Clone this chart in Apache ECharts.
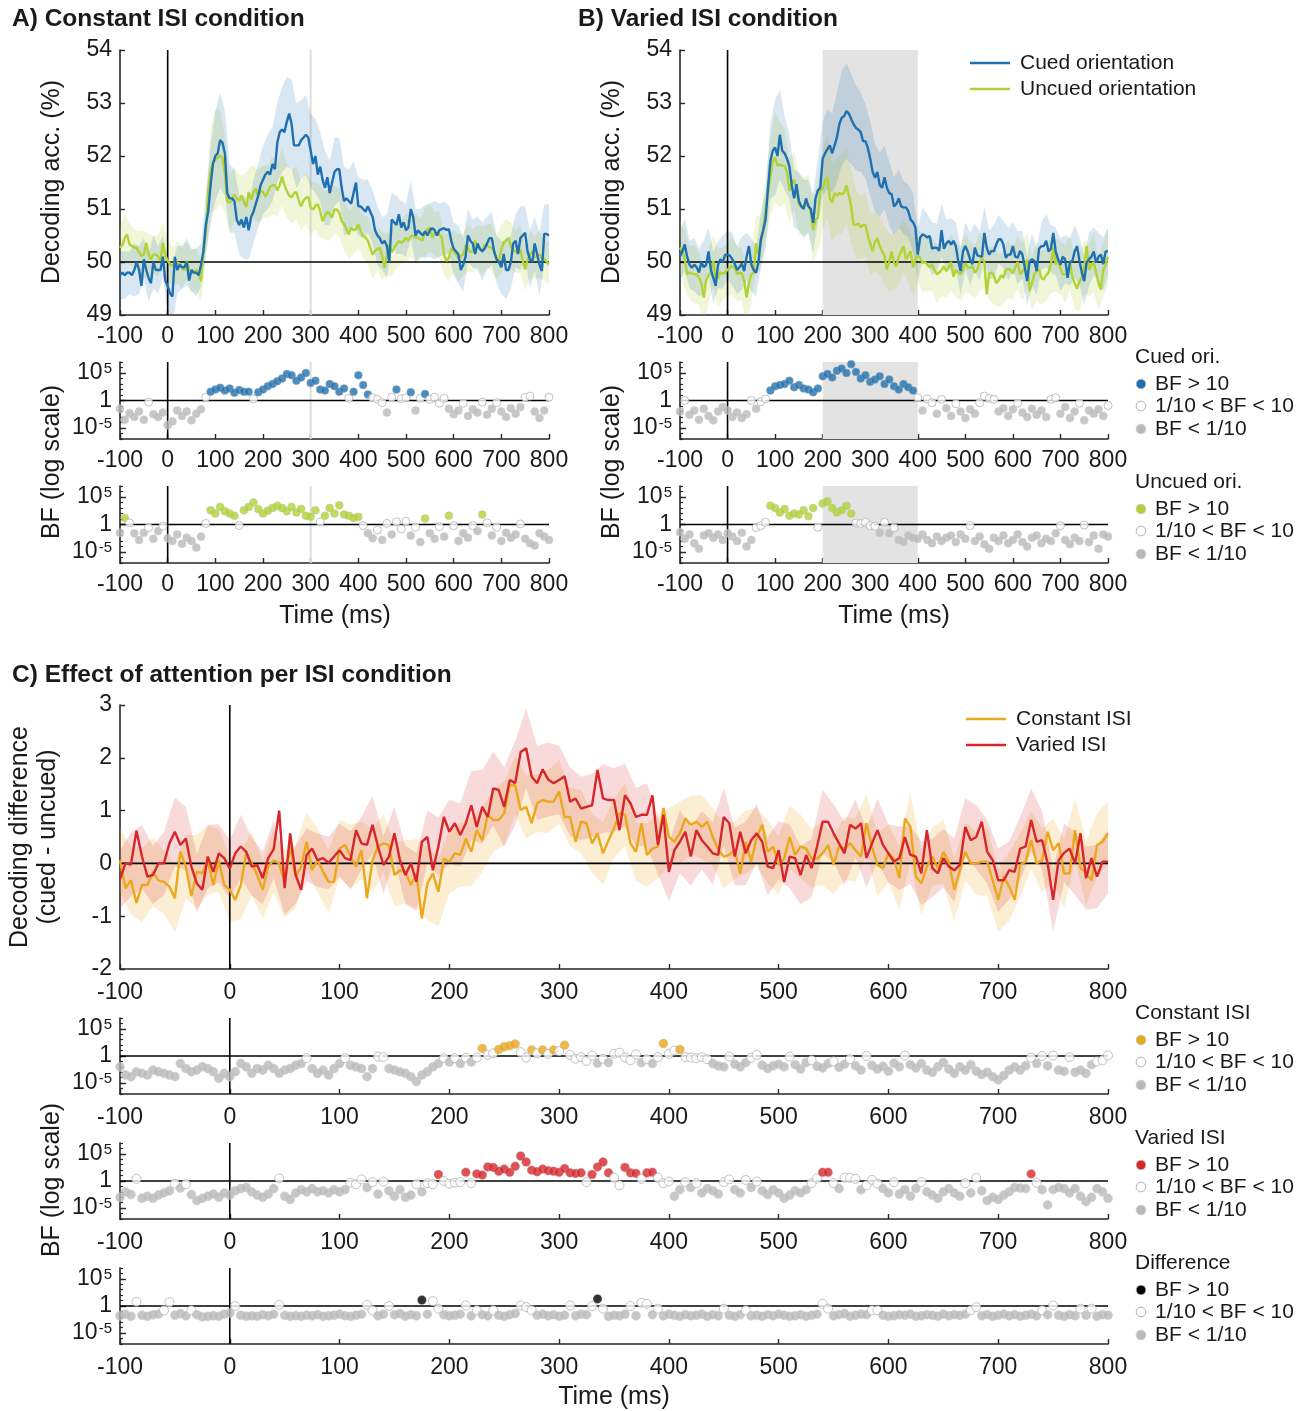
<!DOCTYPE html>
<html><head><meta charset="utf-8">
<script src="https://cdn.jsdelivr.net/npm/echarts@6/dist/echarts.min.js"></script>
<style>html,body{margin:0;padding:0;background:#fff}#c{width:1309px;height:1411px}</style>
</head><body><div id="c"></div>
<script>
// ---------- time bases (ms) ----------
const T5 = Array.from({length:181}, (_, i) => -100 + 5 * i);
const T10 = Array.from({length:91}, (_, i) => -100 + 10 * i);
const xTicks = [-100, 0, 100, 200, 300, 400, 500, 600, 700, 800];
const bfTickLabels = [-5, 0, 5];

// ---------- A) Constant ISI: decoding accuracy (%) every 5 ms ----------
const aCued = [
49.75,49.8,49.75,49.8,49.8,49.75,49.85,50.0,49.85,49.55,
50.05,49.85,49.7,49.6,50.0,49.85,49.85,49.85,50.1,49.65,
49.55,49.4,49.35,50.1,49.85,49.95,49.9,49.9,50.0,49.65,
49.85,49.8,49.8,49.75,49.95,50.2,50.7,50.95,51.45,51.85,
52.0,52.05,52.3,52.25,52.05,51.3,51.2,51.2,51.15,50.8,
50.7,50.8,50.65,50.85,50.6,50.85,50.95,51.1,51.25,51.45,
51.55,51.65,51.7,51.65,51.85,51.75,52.25,52.45,52.5,52.45,
52.65,52.8,52.6,52.2,52.2,52.2,52.3,52.35,52.4,52.35,
52.1,51.85,52.0,51.65,51.8,51.55,51.4,51.6,51.3,51.5,
51.7,51.75,51.75,51.4,51.15,51.2,51.15,51.1,51.3,51.5,
51.05,51.05,51.0,50.95,51.05,50.95,50.85,50.6,50.5,50.45,
50.35,50.4,50.3,50.0,50.8,50.75,50.7,50.9,50.65,50.75,
50.6,50.65,51.0,50.85,50.5,50.6,50.55,50.5,50.58,50.5,
50.6,50.64,50.6,50.5,50.6,50.62,50.64,50.6,50.62,50.4,
50.25,50.2,50.14,49.85,49.95,50.1,50.5,50.4,50.35,50.15,
50.35,50.25,50.2,50.25,50.35,50.45,50.45,50.2,50.05,50.0,
49.9,50.15,49.85,49.85,50.0,50.35,50.4,50.15,50.45,50.5,
50.55,50.2,50.05,50.0,50.35,50.15,49.95,49.83,50.53,50.53,
50.5];
const aUncued = [
50.27,50.32,50.46,50.52,50.33,50.3,50.27,50.27,50.18,50.11,
50.14,50.36,50.14,50.05,50.14,50.14,50.11,50.02,50.36,50.14,
50.02,49.97,49.92,50.0,49.99,49.97,49.89,49.84,50.02,49.86,
49.83,49.78,49.86,49.77,49.64,50.21,50.52,51.34,51.72,51.87,
51.92,51.97,52.0,51.96,51.65,51.15,51.12,51.17,51.27,51.2,
51.15,51.26,51.13,51.04,51.32,51.17,51.32,51.39,51.23,51.35,
51.32,51.23,51.32,51.42,51.45,51.45,51.35,51.45,51.61,51.45,
51.34,51.25,51.22,51.3,51.32,51.16,51.05,51.16,51.21,51.23,
51.03,50.99,51.06,51.09,50.96,50.77,50.87,50.95,50.9,50.84,
50.99,50.99,50.93,50.77,50.72,50.62,50.52,50.65,50.6,50.62,
50.71,50.58,50.49,50.46,50.4,50.27,50.14,50.21,50.24,50.27,
50.11,49.89,50.14,50.33,50.18,50.27,50.33,50.4,50.36,50.4,
50.46,50.4,50.49,50.49,50.46,50.46,50.43,50.4,50.57,50.62,
50.65,50.46,50.53,50.55,50.52,50.46,50.14,50.02,50.08,50.26,
50.21,50.14,50.08,50.11,50.14,50.32,50.27,50.18,50.21,50.4,
50.3,50.24,50.21,50.32,50.31,50.28,50.27,50.18,50.08,50.02,
50.24,50.36,50.41,50.45,50.3,50.22,50.2,50.16,50.24,50.02,
49.86,50.05,50.14,50.2,50.09,50.11,50.14,50.08,50.05,50.01,
49.96];
// confidence half-widths every 10 ms
const aCuedHW = [
0.45,0.45,0.4,0.5,0.45,0.4,0.45,0.5,0.45,0.4,
0.5,0.55,0.45,0.4,0.45,0.4,0.45,0.4,0.55,0.75,
0.85,0.9,0.8,0.65,0.6,0.55,0.6,0.55,0.6,0.6,
0.65,0.7,0.7,0.75,0.8,0.85,0.85,0.8,0.75,0.75,
0.7,0.7,0.65,0.7,0.6,0.65,0.6,0.65,0.6,0.6,
0.55,0.55,0.5,0.5,0.55,0.5,0.6,0.5,0.55,0.5,
0.5,0.55,0.5,0.45,0.5,0.5,0.55,0.5,0.5,0.45,
0.5,0.55,0.5,0.5,0.45,0.5,0.55,0.5,0.5,0.45,
0.5,0.55,0.5,0.5,0.6,0.5,0.55,0.5,0.6,0.55,
0.6];
const aUncuedHW = [
0.4,0.45,0.4,0.35,0.4,0.45,0.4,0.35,0.4,0.4,
0.4,0.35,0.4,0.4,0.35,0.4,0.4,0.4,0.5,0.8,
0.95,0.9,0.7,0.55,0.5,0.5,0.5,0.45,0.5,0.5,
0.5,0.5,0.55,0.5,0.55,0.5,0.5,0.5,0.45,0.5,
0.5,0.45,0.5,0.45,0.5,0.45,0.45,0.5,0.45,0.45,
0.45,0.4,0.45,0.45,0.4,0.45,0.4,0.45,0.45,0.4,
0.45,0.4,0.45,0.4,0.45,0.45,0.4,0.45,0.4,0.45,
0.4,0.45,0.4,0.45,0.4,0.4,0.45,0.4,0.45,0.4,
0.45,0.4,0.45,0.4,0.45,0.4,0.45,0.4,0.45,0.4,
0.4];
// Bayes factors (log10 BF) every 10 ms
const bfACued = [
-1.5,-3.5,-2.3,-3.0,-2.0,-3.5,-0.3,-2.5,-3.0,-2.2,
-4.5,-3.8,-1.8,-2.8,-2.0,-3.6,-2.4,-1.6,0.6,1.6,
2.0,2.3,1.8,2.2,1.4,1.9,1.6,1.6,0.3,1.5,
2.0,2.6,3.0,3.5,4.0,4.8,4.6,3.6,4.2,5.0,
3.2,3.6,2.0,1.8,3.0,2.6,1.6,2.2,0.4,1.6,
4.6,2.8,1.1,0.5,0.2,-0.4,-2.2,0.6,2.0,0.3,
0.5,1.5,-1.8,0.4,1.2,0.2,0.6,-0.5,0.4,-1.5,
-2.5,-1.8,-0.5,-2.8,-1.6,-2.2,-0.3,-2.6,-1.5,-0.4,
-2.0,-3.0,-1.4,-2.4,-1.2,0.6,0.8,-2.0,-3.2,-1.8,
0.6];
const bfAUncued = [
-1.5,1.2,0.3,-1.6,-2.8,-1.5,-0.6,-2.6,-1.2,-0.3,
-2.5,-3.0,-1.8,-3.5,-2.4,-3.0,-4.2,-2.2,0.2,2.6,
2.0,3.2,2.4,2.0,1.6,-0.2,2.6,3.2,4.0,2.8,
2.0,2.5,3.0,3.4,3.0,2.4,3.2,2.2,2.8,1.6,
1.4,2.6,0.5,1.6,3.0,2.0,3.5,1.8,1.6,1.2,
1.4,-0.2,-1.6,-2.5,-1.0,-2.8,0.2,-1.8,0.5,-0.8,
0.6,-2.0,-0.5,-3.2,1.1,-1.6,-2.6,-0.4,-2.2,1.6,
-0.2,-3.0,-1.6,-2.4,-0.2,-1.2,1.8,0.3,-2.0,-0.5,
-3.0,-1.5,-2.4,-1.8,0.1,-2.6,-3.4,-3.8,-1.6,-2.2,
-2.8];

// ---------- B) Varied ISI ----------
const bCued = [
50.11,50.2,50.33,50.1,49.95,49.89,49.95,49.9,49.8,50.0,
49.9,49.95,50.2,49.85,49.7,49.55,49.95,50.05,50.0,50.14,
50.14,50.12,50.05,49.97,49.85,49.9,49.97,49.83,50.1,50.3,
49.95,49.85,49.8,49.99,50.43,50.6,50.8,51.4,51.9,52.1,
52.16,52.0,52.4,52.1,52.05,51.95,51.8,51.45,51.2,51.47,
51.15,51.05,51.0,51.2,51.05,51.0,50.74,51.2,51.35,51.4,
51.95,52.05,52.13,52.2,52.05,52.2,52.35,52.6,52.72,52.75,
52.85,52.8,52.7,52.6,52.53,52.5,52.45,52.28,52.28,52.15,
51.95,51.7,51.59,51.7,51.45,51.4,51.6,51.4,51.3,51.28,
51.05,51.1,51.2,51.05,51.03,51.03,50.96,50.8,50.75,50.65,
50.14,50.46,50.52,50.5,50.46,50.49,50.25,50.27,50.27,50.21,
50.6,50.25,50.35,50.4,50.33,50.4,50.3,50.02,49.83,50.2,
50.3,50.2,50.05,49.96,50.27,50.13,50.11,50.1,50.55,50.27,
50.14,50.21,50.2,50.33,50.43,50.43,50.33,50.08,50.14,50.14,
50.3,50.1,50.08,50.21,50.14,49.9,49.64,50.0,50.05,50.02,
49.83,50.25,50.3,50.3,50.4,50.2,50.25,50.55,50.2,50.05,
49.95,50.1,50.05,49.7,50.0,50.02,50.2,50.3,50.02,49.8,
49.64,49.99,50.05,50.1,50.2,49.99,50.1,50.14,49.96,50.2,
50.2];
const bUncued = [
50.27,50.2,50.05,49.77,49.8,49.78,49.77,49.77,49.7,49.6,
49.33,49.65,49.75,49.8,50.02,49.7,49.7,49.8,49.78,49.8,
49.86,49.89,49.93,49.9,49.77,49.8,49.78,49.64,49.33,49.6,
49.77,49.8,50.35,50.14,50.35,50.6,51.0,51.3,51.6,51.9,
51.97,51.82,51.84,51.82,51.81,51.7,51.34,51.47,51.55,51.35,
51.09,51.04,51.06,51.08,51.09,50.95,50.6,50.8,50.84,51.34,
51.38,51.53,51.6,51.2,51.12,51.3,51.25,51.3,51.28,51.3,
51.45,51.25,51.05,50.7,50.7,50.72,50.66,50.7,50.7,50.5,
50.35,50.2,50.38,50.45,50.3,50.2,50.12,49.86,50.0,50.2,
49.98,49.92,50.1,50.2,50.3,50.05,50.12,50.2,49.9,50.05,
50.12,50.08,49.98,50.0,49.95,49.9,49.96,49.85,49.77,49.8,
49.85,49.92,49.83,49.9,50.0,49.72,49.85,49.8,49.77,49.85,
49.98,49.9,49.89,49.92,49.8,49.85,50.0,50.08,50.0,49.39,
49.78,49.8,49.75,49.6,49.65,49.75,49.7,49.85,49.87,49.85,
49.78,49.9,50.0,49.77,49.82,49.9,50.05,49.45,49.6,49.77,
49.83,49.86,49.7,49.67,49.75,49.8,49.96,50.27,49.95,50.05,
49.88,49.77,49.77,49.78,50.0,49.72,49.6,49.5,49.63,49.7,
49.9,50.3,49.85,49.95,50.0,49.8,49.6,49.48,49.85,49.95,
50.1];
const bCuedHW = [
0.45,0.5,0.45,0.5,0.45,0.5,0.45,0.5,0.45,0.5,
0.45,0.5,0.45,0.5,0.45,0.5,0.45,0.5,0.55,0.7,
0.9,0.85,0.7,0.6,0.55,0.55,0.55,0.5,0.55,0.6,
0.7,0.75,0.75,0.85,0.9,0.9,0.85,0.8,0.75,0.7,
0.7,0.65,0.6,0.6,0.6,0.55,0.55,0.5,0.5,0.55,
0.5,0.5,0.45,0.5,0.45,0.5,0.45,0.5,0.45,0.45,
0.45,0.5,0.45,0.45,0.5,0.45,0.5,0.45,0.45,0.5,
0.45,0.5,0.45,0.45,0.5,0.45,0.45,0.5,0.45,0.45,
0.5,0.45,0.45,0.5,0.45,0.45,0.5,0.45,0.45,0.5,
0.45];
const bUncuedHW = [
0.5,0.55,0.5,0.55,0.5,0.55,0.5,0.5,0.55,0.5,
0.5,0.55,0.5,0.5,0.55,0.5,0.5,0.55,0.6,0.75,
0.85,0.8,0.7,0.6,0.55,0.55,0.55,0.55,0.6,0.65,
0.75,0.8,0.75,0.7,0.75,0.7,0.7,0.65,0.6,0.6,
0.6,0.55,0.55,0.55,0.55,0.5,0.55,0.5,0.5,0.55,
0.5,0.55,0.5,0.5,0.55,0.5,0.5,0.55,0.5,0.5,
0.55,0.5,0.5,0.55,0.5,0.5,0.55,0.5,0.5,0.55,
0.5,0.5,0.55,0.5,0.5,0.55,0.5,0.5,0.55,0.5,
0.5,0.55,0.5,0.5,0.55,0.5,0.5,0.55,0.5,0.5,
0.55];
const bfBCued = [
-2.0,0.0,-2.6,-1.8,-3.5,-1.5,-2.8,-3.6,-2.0,-1.2,
-1.8,-3.0,-2.2,-3.2,-2.5,0.0,-1.5,-0.2,0.3,1.8,
2.6,2.8,3.0,3.6,2.4,2.8,2.2,2.0,1.5,2.2,
4.4,4.8,4.2,5.4,5.8,5.0,6.6,5.2,4.0,4.6,
3.4,3.8,4.4,3.0,3.8,2.6,2.0,3.0,2.4,1.8,
0.5,-1.8,0.3,-0.4,-2.4,0.2,-1.4,-2.8,-0.6,-2.0,
-3.2,-1.6,-2.4,-0.4,0.8,0.4,0.2,-2.0,-1.4,-2.8,
-1.6,-0.5,-2.2,-3.0,-1.5,-2.6,-1.8,-3.0,0.2,0.5,
-2.4,-1.2,-3.2,-2.0,-0.5,-3.6,-1.8,-2.4,-1.6,-2.8,
-0.9];
const bfBUncued = [
-1.4,-2.6,-1.8,-3.4,-4.4,-2.0,-1.6,-2.4,-1.8,-2.8,
-1.6,-2.2,-3.0,-1.5,-4.0,-2.8,-0.6,-0.2,0.4,3.4,
3.0,2.2,2.8,1.6,2.0,1.8,2.6,1.5,3.0,-0.5,
3.8,4.2,3.0,2.2,2.6,3.4,2.0,0.3,0.2,0.4,
-0.2,-0.3,-1.5,0.4,-1.6,-0.6,-2.8,-3.2,-2.0,-2.4,
-2.6,-1.8,-2.8,-3.4,-2.2,-3.0,-2.4,-2.0,-3.2,-1.8,
-2.6,-0.2,-3.0,-2.2,-3.6,-4.4,-2.4,-3.0,-2.0,-3.4,
-2.8,-1.8,-3.2,-4.0,-2.4,-2.0,-3.4,-2.6,-3.0,-1.6,
-0.2,-2.8,-3.6,-2.4,-3.0,-0.1,-3.2,-2.0,-4.4,-1.8,
-2.2];

// ---------- C) Decoding difference (cued - uncued), every 5 ms ----------
const cConst = [
0.06,-0.47,-0.32,-0.75,-0.41,-0.41,-0.16,-0.32,-0.35,-0.44,
-0.66,0.22,-0.06,-0.62,-0.16,-0.19,0.06,-0.41,0.06,-0.41,
-0.5,-0.69,-0.41,0.19,0.0,-0.22,-0.5,-0.06,0.06,0.0,
-0.38,0.32,-0.25,-0.06,0.41,-0.13,0.06,-0.16,-0.35,-0.35,
0.28,0.35,0.13,-0.06,0.25,-0.66,0.06,0.32,0.38,0.35,
-0.22,-0.13,-0.16,-0.41,-0.19,-1.04,-0.38,-0.19,-0.54,0.09,
0.03,0.19,0.16,0.47,0.22,0.63,0.44,0.92,0.82,0.82,
0.95,1.48,1.48,1.01,1.07,0.76,1.14,1.2,1.17,1.17,
1.36,0.88,0.88,0.41,0.79,0.76,0.38,0.57,0.19,0.44,
0.66,0.95,0.92,0.38,0.22,0.76,0.16,0.28,0.32,1.05,
0.5,0.41,0.57,0.85,0.73,0.79,0.69,0.79,0.5,0.25,
0.13,0.16,0.25,-0.19,0.41,0.03,0.5,0.73,0.22,0.32,
-0.03,0.09,0.5,0.16,0.32,0.28,0.09,0.09,0.19,0.35,
-0.03,0.32,0.28,0.38,0.25,0.13,0.76,0.32,-0.03,-0.09,
0.19,0.09,-0.28,0.85,0.69,-0.25,-0.38,-0.06,0.13,-0.09,
0.22,0.03,-0.5,-0.13,0.22,0.0,0.0,0.03,0.03,-0.32,
-0.69,-0.25,-0.44,-0.69,-0.03,0.03,0.44,0.0,0.06,0.6,
0.25,0.38,-0.19,-0.19,0.63,-0.09,-0.18,-0.32,0.35,0.41,
0.57];
const cVaried = [
-0.3,0.0,-0.02,0.62,0.13,-0.25,-0.22,0.0,0.0,0.38,
0.6,0.35,0.47,-0.06,-0.38,-0.5,0.13,-0.16,0.19,0.1,
-0.1,0.19,0.32,0.22,-0.06,-0.03,-0.28,0.1,0.27,1.0,
-0.47,0.57,-0.22,-0.5,0.16,0.28,0.06,0.1,0.01,0.13,
0.25,0.1,0.06,0.63,0.38,0.35,0.73,0.32,-0.03,0.13,
0.57,0.06,-0.22,0.0,-0.35,0.41,0.5,-0.13,0.32,0.88,
0.6,0.76,0.54,0.76,1.1,0.69,1.07,0.88,1.42,1.39,
1.07,1.58,1.52,2.11,2.18,1.64,1.52,1.78,1.59,1.52,
1.58,1.65,1.17,1.23,1.04,1.07,1.1,1.77,1.23,1.2,
1.2,0.63,1.29,1.14,0.88,0.92,0.92,1.29,0.35,0.92,
-0.16,0.25,0.41,0.6,0.13,0.63,0.44,0.32,0.19,0.16,
0.88,0.76,0.13,0.6,0.19,0.44,0.57,0.41,-0.06,-0.09,
0.25,-0.35,0.13,0.1,-0.22,0.16,-0.09,0.32,0.79,0.79,
0.57,0.38,0.19,0.73,0.66,0.76,0.1,0.38,0.63,0.35,
0.19,0.03,0.1,0.5,0.16,0.13,-0.19,0.63,-0.09,-0.19,
0.1,-0.06,-0.13,-0.03,0.69,0.44,0.5,0.79,0.22,0.06,
-0.32,-0.32,-0.13,-0.16,0.28,0.32,0.82,0.41,0.44,0.0,
-0.69,0.06,0.2,0.28,0.0,0.57,-0.28,0.1,-0.25,0.03,
0.03];
const cConstHW = [
0.6,0.65,0.7,0.65,0.6,0.65,0.6,0.7,0.65,0.6,
0.6,0.65,0.6,0.55,0.6,0.65,0.6,0.55,0.6,0.6,
0.55,0.6,0.55,0.6,0.55,0.6,0.6,0.65,0.7,0.65,
0.6,0.6,0.65,0.6,0.6,0.6,0.55,0.6,0.55,0.6,
0.6,0.55,0.6,0.55,0.6,0.55,0.6,0.55,0.6,0.6,
0.55,0.6,0.55,0.6,0.55,0.6,0.55,0.6,0.55,0.6,
0.55,0.6,0.6,0.55,0.6,0.55,0.6,0.6,0.55,0.6,
0.55,0.6,0.65,0.6,0.55,0.6,0.6,0.55,0.6,0.65,
0.6,0.65,0.6,0.55,0.6,0.6,0.65,0.6,0.6,0.6,
0.6];
const cVariedHW = [
0.55,0.6,0.6,0.55,0.6,0.65,0.6,0.55,0.6,0.55,
0.55,0.6,0.55,0.5,0.55,0.5,0.55,0.5,0.5,0.5,
0.5,0.55,0.5,0.55,0.55,0.5,0.55,0.55,0.5,0.55,
0.6,0.6,0.65,0.7,0.7,0.75,0.8,0.75,0.7,0.7,
0.65,0.65,0.6,0.6,0.65,0.6,0.6,0.55,0.6,0.55,
0.55,0.6,0.55,0.55,0.6,0.55,0.55,0.6,0.55,0.55,
0.55,0.6,0.55,0.55,0.6,0.55,0.6,0.55,0.55,0.6,
0.55,0.6,0.55,0.6,0.55,0.55,0.6,0.55,0.6,0.6,
0.6,0.55,0.6,0.6,0.55,0.6,0.55,0.6,0.6,0.6,
0.6];
const bfCConst = [
-2.0,-3.5,-3.8,-2.9,-3.2,-3.5,-2.6,-2.9,-3.2,-3.5,
-3.8,-1.4,-2.3,-2.9,-2.6,-2.0,-2.3,-2.9,-4.1,-3.2,
-3.8,-2.9,-1.4,-2.0,-3.2,-2.3,-2.6,-1.7,-2.3,-3.2,
-2.6,-2.3,-1.7,-1.4,-0.4,-2.3,-3.2,-2.6,-3.5,-2.3,
-1.4,-0.4,-1.7,-2.0,-2.3,-3.8,-2.3,-0.1,-0.2,-2.3,
-2.6,-2.9,-3.2,-3.8,-4.7,-3.5,-2.9,-2.0,-1.4,-0.4,
-1.1,-0.4,-1.4,-0.3,-1.1,-0.3,1.4,0.2,0.5,1.2,
1.7,1.9,2.2,0.7,-0.3,1.1,0.5,1.1,0.4,1.1,
0.9,2.0,0.2,-0.5,-0.2,-0.9,0.1,-1.3,-0.5,-1.2,
0.4,0.6,-0.3,-0.8,0.3,-1.2,-0.6,-1.4,-0.2,2.3,
0.4,1.0,1.2,-0.2,-0.3,-0.4,-0.2,-0.6,-1.4,-1.8,
-2.0,-0.1,-1.5,-2.0,-1.2,-0.3,0.2,-1.7,-2.3,-1.8,
-1.5,-2.0,-0.1,-1.6,-2.4,-1.2,-0.8,-1.9,-2.2,-1.4,
-1.0,-2.1,-1.5,-0.6,-1.8,-2.6,0.0,-1.7,-2.4,-1.9,
-2.8,-1.3,-2.0,0.1,-1.6,-2.2,-1.4,-2.6,-3.0,-2.0,
-1.2,-2.4,-3.2,-2.0,-2.6,-1.6,-2.8,-3.4,-3.0,-3.8,
-4.4,-3.6,-2.6,-2.0,-2.6,-1.8,-0.3,-1.4,0.0,-1.8,
0.1,-2.6,-2.8,-0.2,-3.0,-2.6,-3.2,-1.6,-1.0,-0.8,
0.1];
const bfCVaried = [
-3.0,-2.0,-2.5,0.4,-3.2,-2.8,-3.2,-2.6,-2.2,-1.8,
-0.5,-1.3,-0.6,-2.5,-3.6,-3.2,-2.8,-2.4,-3.0,-2.2,
-2.6,-1.8,-1.4,-1.2,-2.0,-2.6,-3.0,-2.4,-1.4,0.5,
-2.8,-3.4,-2.2,-1.6,-2.0,-1.4,-2.0,-1.8,-2.2,-1.6,
-2.0,-1.6,-0.3,-0.6,0.3,-1.2,-0.2,-2.4,-0.1,-1.8,
-2.8,-1.6,-3.0,-2.6,-0.6,-2.0,-0.4,-0.6,1.2,0.0,
-0.5,-0.3,-0.2,1.6,-0.4,1.3,1.1,2.6,2.5,1.8,
2.2,1.6,2.7,4.6,3.5,2.0,1.7,2.2,1.9,1.8,
1.6,2.3,1.5,1.4,1.5,-0.2,1.2,2.6,3.5,1.5,
0.6,-0.8,2.5,1.5,1.4,0.4,1.5,1.6,0.6,-0.4,
-0.1,-2.8,-1.6,-0.2,-1.2,-0.4,-2.2,-1.4,-1.8,-2.4,
-0.2,0.3,-1.6,-2.2,0.2,-1.2,-0.1,-1.8,-2.5,-1.6,
-2.2,-3.2,-2.6,-1.8,-2.2,-1.6,-0.4,0.5,1.6,1.6,
-0.4,-1.4,0.6,0.6,0.4,-1.6,-0.8,0.2,-0.5,-1.4,
-2.2,-0.2,-2.4,-1.6,-2.8,-1.4,-0.2,-2.0,-2.6,-3.2,
-2.0,-1.4,-2.2,-2.8,-0.4,-2.2,0.6,-1.8,-3.6,-3.0,
-3.4,-2.6,-2.0,-1.2,-1.3,-1.4,1.3,-0.3,-1.6,-4.4,
-1.6,-1.2,-1.4,-2.2,-1.4,-2.8,-3.8,-3.0,-1.4,-2.0,
-3.2];
const bfCDiff = [
-1.8,-1.5,-1.9,0.8,-1.7,-1.9,-1.6,-1.5,-0.8,0.7,
-1.7,-1.4,-1.8,-0.8,-1.6,-2.0,-1.9,-1.8,-1.9,-1.5,
-1.3,0.0,-1.7,-1.9,-1.8,-1.9,-1.6,-1.8,-1.5,0.2,
-1.7,-1.9,-1.8,-1.9,-1.7,-1.8,-1.6,-1.9,-1.8,-1.7,
-1.5,-1.8,-1.9,-1.7,-1.5,0.2,-0.8,-1.8,-1.5,0.0,
-1.6,-1.4,-1.9,-1.6,-1.8,1.1,-1.5,0.9,-0.5,-1.6,
-1.8,-1.7,-1.5,0.1,-1.8,-0.8,-1.6,-1.8,-0.8,-1.7,
-1.9,-1.6,-1.4,0.1,-0.2,-0.8,-1.7,-1.5,-1.8,-1.6,
-1.9,-1.7,0.1,-1.8,-1.5,-1.6,0.0,1.3,-0.5,-1.9,
-1.7,-1.8,-1.5,0.0,-1.8,0.6,0.4,-1.6,-0.5,-1.8,
-1.5,-1.7,-1.9,-1.6,-1.8,-1.7,-1.5,-1.9,-1.6,-1.8,
-0.5,-1.7,-1.9,-1.6,-0.8,-1.8,-1.7,-1.9,-1.6,-1.8,
-1.5,-1.7,-1.9,-1.8,-1.6,-1.9,-1.7,-1.5,0.4,-0.5,
-1.8,-1.6,-1.4,-1.9,-1.7,-1.5,-1.6,-0.8,-0.8,-1.7,
-1.9,-1.8,-1.6,-1.7,-1.5,-1.9,-1.8,-1.6,-1.7,-1.9,
-1.5,-1.8,-1.6,-1.7,-1.5,-0.8,-0.2,-1.8,-1.6,-1.9,
-1.7,-1.5,-1.8,-1.6,-1.9,-1.7,-1.5,-1.8,-0.8,-1.6,
0.1,-1.7,-1.9,-1.6,-1.8,-0.5,-1.7,-0.5,-1.9,-1.6,
-1.7];

// ---------- styling ----------
const FONT = '"Liberation Sans", Arial, Helvetica, sans-serif';
const INK = '#1a1a1a';
const AX = '#262626';
const TICK_FS = 23, TITLE_FS = 24.5, AXNAME_FS = 25, LEG_FS = 21;
const COL = {
  cued: '#1f70b0', uncued: '#b2d235',
  constant: '#eaa81c', varied: '#d7262b', diff: '#000000',
  gray: '#b9b9b9'
};
const BAND = {
  cued: 'rgba(31,112,176,0.17)', uncued: 'rgba(178,210,53,0.2)',
  constant: 'rgba(234,168,28,0.2)', varied: 'rgba(215,38,43,0.17)'
};

const grids = [
  {left:120, top:50,   width:429, height:265}, // 0 A top
  {left:120, top:362,  width:429, height:77},  // 1 A BF cued
  {left:120, top:486,  width:429, height:77},  // 2 A BF uncued
  {left:680, top:50,   width:428, height:265}, // 3 B top
  {left:680, top:362,  width:428, height:77},  // 4 B BF cued
  {left:680, top:486,  width:428, height:77},  // 5 B BF uncued
  {left:120, top:705,  width:988, height:264}, // 6 C top
  {left:120, top:1018, width:988, height:76},  // 7 C BF constant
  {left:120, top:1143, width:988, height:76},  // 8 C BF varied
  {left:120, top:1268, width:988, height:76}   // 9 C BF diff
];

const option = {
  animation: false,
  backgroundColor: '#ffffff',
  textStyle: {fontFamily: FONT},
  grid: grids.map(g => Object.assign({containLabel:false}, g)),
  xAxis: [], yAxis: [], series: [], graphic: []
};

grids.forEach((g, gi) => {
  option.xAxis.push({
    type:'value', gridIndex:gi, min:xTicks[0], max:xTicks[xTicks.length-1], interval:100,
    axisLine:{show:true, onZero:false, lineStyle:{color:AX, width:1.6}},
    axisTick:{show:true, inside:true, length:5, lineStyle:{color:AX, width:1.4}},
    axisLabel:{fontSize:TICK_FS, color:INK, margin: gi >= 6 ? 12 : 10, fontFamily:FONT},
    splitLine:{show:false}
  });
});

const yMain = {}; // grid -> y axis index
function addTopY(gi, min, max) {
  yMain[gi] = option.yAxis.length;
  option.yAxis.push({
    type:'value', gridIndex:gi, min, max, interval:1,
    axisLine:{show:true, onZero:false, lineStyle:{color:AX, width:1.6}},
    axisTick:{show:true, inside:true, length:5, lineStyle:{color:AX, width:1.4}},
    axisLabel:{fontSize:TICK_FS, color:INK, margin:8, fontFamily:FONT},
    splitLine:{show:false}
  });
}
const decades = [-7,-6,-5,-4,-3,-2,-1,0,1,2,3,4,5,6,7];
function addBFY(gi) {
  yMain[gi] = option.yAxis.length;
  option.yAxis.push({
    type:'value', gridIndex:gi, min:-7, max:7,
    axisLine:{show:true, onZero:false, lineStyle:{color:AX, width:1.6}},
    axisTick:{show:true, inside:true, length:3, customValues:decades, lineStyle:{color:AX, width:1.2}},
    axisLabel:{
      customValues:bfTickLabels, margin:8, color:INK,
      formatter: v => v === 0 ? '{n|1}' : '{n|10}{s|' + (v < 0 ? '-' : '') + Math.abs(v) + '}',
      rich:{
        n:{fontSize:TICK_FS, color:INK, fontFamily:FONT},
        s:{fontSize:15, color:INK, fontFamily:FONT, verticalAlign:'top', padding:[0,0,0,1]}
      }
    },
    splitLine:{show:false}
  });
  option.yAxis.push({
    type:'value', gridIndex:gi, min:-7, max:7, position:'left',
    axisLine:{show:false, onZero:false},
    axisTick:{show:true, inside:true, length:6, customValues:bfTickLabels, lineStyle:{color:AX, width:1.4}},
    axisLabel:{show:false}, splitLine:{show:false}
  });
}
[0,3].forEach(g => addTopY(g, 49, 54));
addTopY(6, -2, 3);
[1,2,4,5,7,8,9].forEach(addBFY);

// background decorations: shaded window / light reference line
function backDeco(gi, opts) {
  return {
    type:'custom', xAxisIndex:gi, yAxisIndex:yMain[gi], z:1, silent:true, clip:false,
    data:[[0, 0]],
    renderItem(params, api) {
      const cs = params.coordSys, ch = [];
      if (opts.shade) {
        const x1 = api.coord([opts.shade[0], 0])[0], x2 = api.coord([opts.shade[1], 0])[0];
        ch.push({type:'rect', shape:{x:x1, y:cs.y, width:x2-x1, height:cs.height}, style:{fill:'#e3e3e3'}});
      }
      if (opts.light != null) {
        const x = api.coord([opts.light, 0])[0];
        ch.push({type:'line', shape:{x1:x, y1:cs.y, x2:x, y2:cs.y+cs.height}, style:{stroke:'#dedede', lineWidth:2}});
      }
      return {type:'group', children:ch};
    }
  };
}
// black zero / chance lines
function zeroDeco(gi, yRef) {
  return {
    type:'custom', xAxisIndex:gi, yAxisIndex:yMain[gi], z:3, silent:true, clip:false,
    data:[[0, yRef]],
    renderItem(params, api) {
      const cs = params.coordSys;
      const x0 = api.coord([0, yRef])[0], y0 = api.coord([0, yRef])[1];
      return {type:'group', children:[
        {type:'line', shape:{x1:cs.x, y1:y0, x2:cs.x+cs.width, y2:y0}, style:{stroke:'#000', lineWidth:1.6}},
        {type:'line', shape:{x1:x0, y1:cs.y, x2:x0, y2:cs.y+cs.height}, style:{stroke:'#000', lineWidth:1.6}}
      ]};
    }
  };
}
function band(gi, line, hw, fill) {
  return {
    type:'custom', xAxisIndex:gi, yAxisIndex:yMain[gi], z:2, silent:true, clip:true,
    data:[[T10[0], line[0]]],
    renderItem(params, api) {
      const up = [], lo = [];
      for (let i = 0; i < T10.length; i++) {
        const v = line[2*i];
        up.push(api.coord([T10[i], v + hw[i]]));
        lo.push(api.coord([T10[i], v - hw[i]]));
      }
      return {type:'polygon', shape:{points: up.concat(lo.reverse())}, style:{fill}};
    }
  };
}
function lineS(name, gi, arr, color) {
  return {
    name, type:'line', xAxisIndex:gi, yAxisIndex:yMain[gi], z:4, silent:true, clip:true,
    data: T5.map((t, i) => [t, arr[i]]), symbol:'none', showSymbol:false,
    lineStyle:{color, width:2.4}, itemStyle:{color}
  };
}
function bfStyle(v, color) {
  if (v > 1) return {color, borderColor:'rgba(190,190,190,0.7)', borderWidth:0.6};
  if (v >= -1) return {color:'#ffffff', borderColor:'#b3b3b3', borderWidth:1};
  return {color:COL.gray, borderColor:'#cdcdcd', borderWidth:0.6};
}
function bfS(name, gi, times, arr, color, size) {
  return {
    name, type:'scatter', xAxisIndex:gi, yAxisIndex:yMain[gi], z:5, silent:true, symbolSize:size,
    data: times.map((t, i) => ({value:[t, arr[i]], itemStyle:bfStyle(arr[i], color)}))
  };
}

const S = option.series;
// A
S.push(backDeco(0, {light:300}), band(0, aUncued, aUncuedHW, BAND.uncued), band(0, aCued, aCuedHW, BAND.cued),
  zeroDeco(0, 50), lineS('Uncued orientation', 0, aUncued, COL.uncued), lineS('Cued orientation', 0, aCued, COL.cued));
S.push(backDeco(1, {light:300}), zeroDeco(1, 0), bfS('A cued BF', 1, T10, bfACued, COL.cued, 8));
S.push(backDeco(2, {light:300}), zeroDeco(2, 0), bfS('A uncued BF', 2, T10, bfAUncued, COL.uncued, 8));
// B
S.push(backDeco(3, {shade:[200,400]}), band(3, bUncued, bUncuedHW, BAND.uncued), band(3, bCued, bCuedHW, BAND.cued),
  zeroDeco(3, 50), lineS('Uncued orientation', 3, bUncued, COL.uncued), lineS('Cued orientation', 3, bCued, COL.cued));
S.push(backDeco(4, {shade:[200,400]}), zeroDeco(4, 0), bfS('B cued BF', 4, T10, bfBCued, COL.cued, 8));
S.push(backDeco(5, {shade:[200,400]}), zeroDeco(5, 0), bfS('B uncued BF', 5, T10, bfBUncued, COL.uncued, 8));
// C
S.push(band(6, cConst, cConstHW, BAND.constant), band(6, cVaried, cVariedHW, BAND.varied),
  zeroDeco(6, 0), lineS('Constant ISI', 6, cConst, COL.constant), lineS('Varied ISI', 6, cVaried, COL.varied));
S.push(zeroDeco(7, 0), bfS('C constant BF', 7, T5, bfCConst, COL.constant, 9));
S.push(zeroDeco(8, 0), bfS('C varied BF', 8, T5, bfCVaried, COL.varied, 9));
S.push(zeroDeco(9, 0), bfS('C difference BF', 9, T5, bfCDiff, COL.diff, 9));

// ---------- text, legends ----------
const G = option.graphic;
function txt(x, y, text, size, opts) {
  opts = opts || {};
  G.push({type:'text', x, y, rotation:opts.rot || 0, silent:true, z:100,
    style:{text, fontSize:size, fontFamily:FONT, fontWeight:opts.bold ? 'bold' : 'normal', fill:INK,
      textAlign:opts.align || 'left', textVerticalAlign:'middle', verticalAlign:'middle'}});
}
const R90 = Math.PI / 2;
txt(12, 19, 'A) Constant ISI condition', TITLE_FS, {bold:true});
txt(578, 19, 'B) Varied ISI condition', TITLE_FS, {bold:true});
txt(12, 675, 'C) Effect of attention per ISI condition', TITLE_FS, {bold:true});
txt(52, 182, 'Decoding acc. (%)', AXNAME_FS, {rot:R90, align:'center'});
txt(612, 182, 'Decoding acc. (%)', AXNAME_FS, {rot:R90, align:'center'});
txt(52, 462, 'BF (log scale)', AXNAME_FS, {rot:R90, align:'center'});
txt(612, 462, 'BF (log scale)', AXNAME_FS, {rot:R90, align:'center'});
txt(335, 616, 'Time (ms)', AXNAME_FS, {align:'center'});
txt(894, 616, 'Time (ms)', AXNAME_FS, {align:'center'});
txt(20, 837, 'Decoding difference', AXNAME_FS, {rot:R90, align:'center'});
txt(48, 837, '(cued - uncued)', AXNAME_FS, {rot:R90, align:'center'});
txt(52, 1180, 'BF (log scale)', AXNAME_FS, {rot:R90, align:'center'});
txt(614, 1397, 'Time (ms)', AXNAME_FS, {align:'center'});

function lineLegend(x, y, color, label) {
  G.push({type:'line', silent:true, z:100, shape:{x1:x, y1:y, x2:x+40, y2:y}, style:{stroke:color, lineWidth:2.5}});
  txt(x + 50, y, label, LEG_FS);
}
lineLegend(970, 63, COL.cued, 'Cued orientation');
lineLegend(970, 89, COL.uncued, 'Uncued orientation');
lineLegend(966, 719, COL.constant, 'Constant ISI');
lineLegend(966, 745, COL.varied, 'Varied ISI');

function bfLegend(y, title, color) {
  txt(1135, y, title, LEG_FS);
  const rows = [
    [y + 27, 'BF > 10', {fill:color, stroke:'rgba(190,190,190,0.7)'}],
    [y + 49, '1/10 < BF < 10', {fill:'#ffffff', stroke:'#b3b3b3'}],
    [y + 72, 'BF < 1/10', {fill:COL.gray, stroke:'#cdcdcd'}]
  ];
  rows.forEach(r => {
    G.push({type:'circle', silent:true, z:100, shape:{cx:1141, cy:r[0], r:4.8}, style:Object.assign({lineWidth:1}, r[2])});
    txt(1155, r[0], r[1], LEG_FS);
  });
}
bfLegend(357, 'Cued ori.', COL.cued);
bfLegend(482, 'Uncued ori.', COL.uncued);
bfLegend(1013, 'Constant ISI', COL.constant);
bfLegend(1138, 'Varied ISI', COL.varied);
bfLegend(1263, 'Difference', COL.diff);

// sanity check of array lengths (shown only if something is off)
const checks = {aCued, aUncued, bCued, bUncued, cConst, cVaried, bfCConst, bfCVaried, bfCDiff};
const checks10 = {aCuedHW, aUncuedHW, bCuedHW, bUncuedHW, cConstHW, cVariedHW, bfACued, bfAUncued, bfBCued, bfBUncued};
const bad = [];
Object.keys(checks).forEach(k => { if (checks[k].length !== 181) bad.push(k + ':' + checks[k].length); });
Object.keys(checks10).forEach(k => { if (checks10[k].length !== 91) bad.push(k + ':' + checks10[k].length); });
if (bad.length) G.push({type:'text', x:300, y:640, style:{text:'LEN ' + bad.join(' '), fontSize:14, fill:'red'}});

const chart = echarts.init(document.getElementById('c'), null, {renderer:'canvas', width:1309, height:1411});
chart.setOption(option);
</script>
</body></html>
